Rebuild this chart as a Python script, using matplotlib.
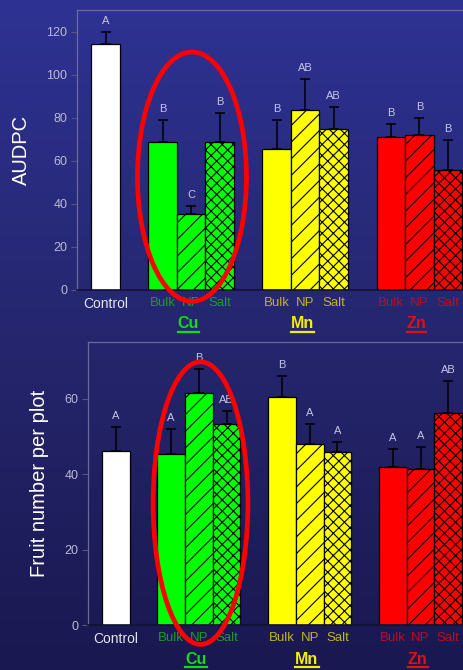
import matplotlib
matplotlib.use("Agg")
import matplotlib.pyplot as plt
import numpy as np
from matplotlib.patches import Ellipse
from matplotlib.lines import Line2D
from matplotlib.colors import LinearSegmentedColormap

plt.rcParams["font.family"] = ["Liberation Sans", "DejaVu Sans"]
plt.rcParams["hatch.linewidth"] = 0.8

# ---- data -------------------------------------------------------------
groups = ["Cu", "Mn", "Zn"]
forms = ["Bulk", "NP", "Salt"]

# order: Control, Cu Bulk/NP/Salt, Mn Bulk/NP/Salt, Zn Bulk/NP/Salt
audpc_mean = [114, 68.5, 35.5, 68.5, 65.6, 83.6, 74.6, 70.9, 71.8, 55.5]
audpc_err = [5.8, 10.3, 3.5, 13.5, 13.2, 14.4, 10.2, 6.3, 7.9, 14.3]
audpc_letters = ["A", "B", "C", "B", "B", "AB", "AB", "B", "B", "B"]

fruit_mean = [46, 45.2, 61.6, 53.4, 60.5, 48, 45.9, 41.9, 41.4, 56.2]
fruit_err = [6.4, 6.7, 6.2, 3.4, 5.5, 5.4, 2.6, 4.8, 5.9, 8.4]
fruit_letters = ["A", "A", "B", "AB", "B", "A", "A", "A", "A", "AB"]

# ---- style ------------------------------------------------------------
group_fill = {"Cu": "#00ff00", "Mn": "#ffff00", "Zn": "#ff0000"}
group_sub_color = {"Cu": "#1f9a25", "Mn": "#bfb22a", "Zn": "#b8101c"}
group_title_color = {"Cu": "#10e010", "Mn": "#f2f000", "Zn": "#e41010"}
form_hatch = {"Bulk": "", "NP": "//", "Salt": "xxx"}
TICK_COLOR = "#b9b9d6"
LETTER_COLOR = "#c4c4e2"

positions = [0.0]
colors = ["white"]
hatches = [""]
for g_i, g in enumerate(groups):
    for f_i, f in enumerate(forms):
        positions.append(2 + 4 * g_i + f_i)
        colors.append(group_fill[g])
        hatches.append(form_hatch[f])
positions = np.array(positions)

fig = plt.figure(figsize=(4.63, 6.70), dpi=100)

# gradient background
bg = fig.add_axes([0, 0, 1, 1], zorder=-10)
cmap = LinearSegmentedColormap.from_list(
    "bg", ["#2e3293", "#25266e", "#1a1850"]
)
bg.imshow(np.linspace(0, 1, 256).reshape(-1, 1), cmap=cmap, aspect="auto",
          extent=[0, 1, 0, 1])
bg.axis("off")


def draw_panel(rect, means, errs, letters, ylim, yticks, ylabel, ylabel_x,
               ellipse):
    ax = fig.add_axes(rect)
    ax.set_facecolor("none")
    bars = ax.bar(positions, means, width=1.0, color=colors,
                  edgecolor="black", linewidth=0.9, zorder=2)
    for b, h in zip(bars, hatches):
        b.set_hatch(h)
    ax.errorbar(positions, means, yerr=[np.zeros(len(errs)), errs], fmt="none",
                ecolor="black", elinewidth=1.1, capsize=3.6, capthick=1.1,
                zorder=3)
    for x, m, e, t in zip(positions, means, errs, letters):
        ax.annotate(t, xy=(x, m + e), xytext=(0, 6), textcoords="offset pixels",
                    ha="center", va="bottom", fontsize=8, color=LETTER_COLOR)

    ax.set_xlim(-1.0, 12.53)
    ax.set_ylim(*ylim)
    ax.set_yticks(yticks)
    ax.tick_params(axis="y", colors="#55557a", labelcolor=TICK_COLOR,
                   labelsize=9, length=4, width=0.8, pad=3)
    ax.set_xticks([])
    for s in ("left", "top"):
        ax.spines[s].set_color("#6a6a9c")
        ax.spines[s].set_linewidth(0.9)
    ax.spines["right"].set_visible(False)
    ax.spines["bottom"].set_color("#121236")
    ax.spines["bottom"].set_linewidth(1.2)
    ax.set_ylabel(ylabel, color="white", fontsize=14.5)
    ax.yaxis.set_label_coords(ylabel_x, 0.5)

    tr = ax.get_xaxis_transform()
    ax.annotate("Control", xy=(0, 0), xycoords=tr, xytext=(0, -14),
                textcoords="offset pixels", ha="center", va="center",
                fontsize=10, color="#e4e4f2")
    titles = []
    for g_i, g in enumerate(groups):
        for f_i, f in enumerate(forms):
            ax.annotate(f, xy=(2 + 4 * g_i + f_i, 0), xycoords=tr,
                        xytext=(0, -13), textcoords="offset pixels",
                        ha="center", va="center", fontsize=9.5,
                        color=group_sub_color[g])
        titles.append(ax.annotate(g, xy=(2.9 + 4 * g_i, 0), xycoords=tr,
                                  xytext=(0, -34), textcoords="offset pixels",
                                  ha="center", va="center", fontsize=11.5,
                                  fontweight="bold",
                                  color=group_title_color[g]))

    cx, cy, w, h = ellipse
    ax.add_patch(Ellipse((cx, cy), w, h, fill=False, edgecolor="#ff0000",
                         linewidth=3.4, zorder=5, clip_on=False))
    return titles


titles_top = draw_panel([77 / 463, 1 - 290 / 670, 1 - 77 / 463, 280 / 670],
                        audpc_mean, audpc_err, audpc_letters, (0, 130),
                        [0, 20, 40, 60, 80, 100, 120], "AUDPC", -0.118,
                        (3.03, 52.6, 3.82, 115.8))
titles_bot = draw_panel([88 / 463, 1 - 625 / 670, 1 - 88 / 463, 283 / 670],
                        fruit_mean, fruit_err, fruit_letters, (0, 75),
                        [0, 20, 40, 60], "Fruit number per plot", -0.104,
                        (3.06, 32.3, 3.42, 74.9))

# underline the metal names
fig.canvas.draw()
inv = fig.transFigure.inverted()
for t in titles_top + titles_bot:
    bb = t.get_window_extent()
    (x0, y0), (x1, _) = inv.transform([(bb.x0, bb.y0 - 0.5), (bb.x1, bb.y0)])
    fig.add_artist(Line2D([x0, x1], [y0, y0], transform=fig.transFigure,
                          color=t.get_color(), linewidth=1.6))

fig.savefig("out.png", dpi=100)
